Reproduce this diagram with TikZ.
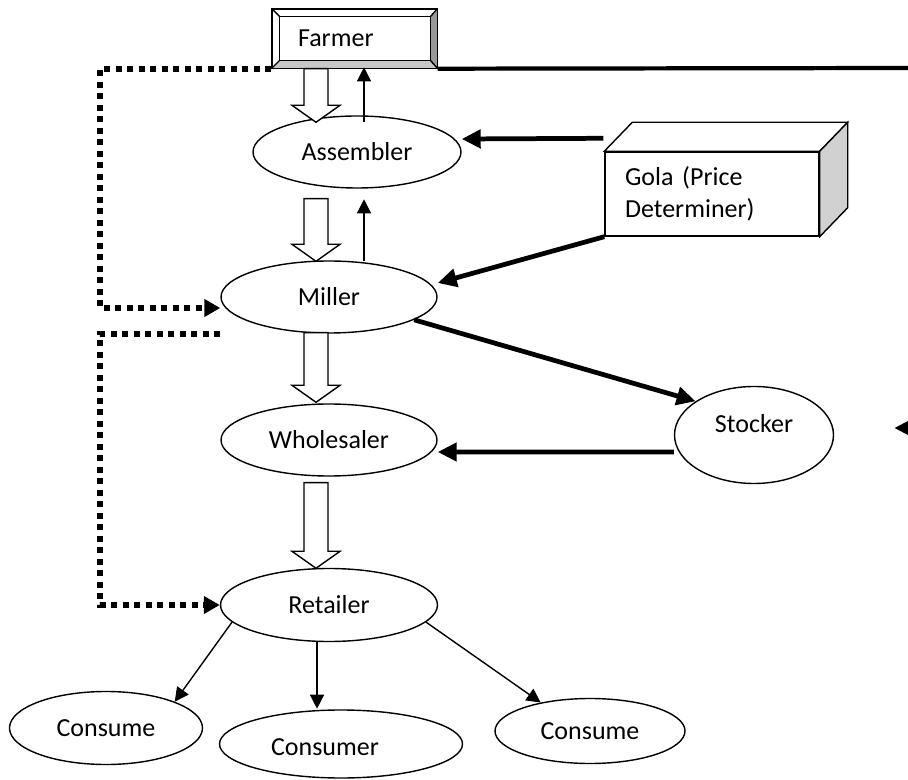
\documentclass[tikz,border=0pt]{standalone}
\usepackage{fontspec}
\setmainfont{Carlito}
\usetikzlibrary{shapes.geometric, arrows.meta, calc}

\definecolor{bevelright}{gray}{0.6}
\definecolor{bevelbottom}{gray}{0.78}
\definecolor{sideface}{gray}{0.82}

% hollow down arrow: x, top, tip
\newcommand{\hollowarrow}[3]{%
  \draw[line width=0.8pt, fill=white] let \p1=(#1,0), \p2=(#2), \p3=(#3) in
    (\x1-0.24cm,\y2) -- (\x1+0.24cm,\y2) -- (\x1+0.24cm,\y3+0.34cm) -- (\x1+0.48cm,\y3+0.34cm)
    -- (\x1,\y3) -- (\x1-0.48cm,\y3+0.34cm) -- (\x1-0.24cm,\y3+0.34cm) -- cycle;}

\begin{document}
\begin{tikzpicture}[font=\fontsize{14.8}{18.2}\selectfont,
  bubble/.style={ellipse, draw, line width=0.8pt, inner sep=0pt},
  heavy/.style={line width=2.7pt, -{Triangle[length=0.38cm,width=0.36cm]}},
  thinarrow/.style={line width=0.8pt, -{Triangle[length=0.28cm,width=0.28cm]}},
  dotline/.style={line width=0.12cm, dash pattern=on 0.12cm off 0.11cm, -{Triangle[length=0.32cm,width=0.34cm]}}]
\useasboundingbox (0,0) rectangle (18.16,-15.6);

% farmer
\node[draw, line width=0.8pt, minimum width=3.3cm, minimum height=1.18cm, inner xsep=0.52cm, text width=2.26cm, align=left] (farmer) at (7.09,-0.77) {Farmer};
\fill[bevelright] (farmer.north east) -- (farmer.south east) -- ($(farmer.south east)+(-0.14,0.16)$) -- ($(farmer.north east)+(-0.14,-0.16)$) -- cycle;
\fill[bevelbottom] (farmer.south west) -- (farmer.south east) -- ($(farmer.south east)+(-0.14,0.16)$) -- ($(farmer.south west)+(0.16,0.16)$) -- cycle;
\draw[line width=0.8pt] (farmer.south west) rectangle (farmer.north east);
\draw[line width=0.8pt] ($(farmer.south west)+(0.16,0.16)$) rectangle ($(farmer.north east)+(-0.14,-0.16)$);
\draw[line width=0.8pt] (farmer.north west) -- ++(0.16,-0.16);
\draw[line width=0.8pt] (farmer.south west) -- ++(0.16,0.16);
\draw[line width=0.8pt] (farmer.north east) -- ++(-0.14,-0.16);
\draw[line width=0.8pt] (farmer.south east) -- ++(-0.14,0.16);

% chain
\node[bubble, minimum width=4.16cm, minimum height=1.44cm] (assembler) at (7.14,-3.04) {Assembler};
\node[bubble, minimum width=4.32cm, minimum height=1.44cm] (miller) at (6.58,-5.94) {Miller};
\node[bubble, minimum width=4.32cm, minimum height=1.44cm] (wholesaler) at (6.58,-8.80) {Wholesaler};
\node[bubble, minimum width=4.34cm, minimum height=1.46cm] (retailer) at (6.58,-12.10) {Retailer};
\node[bubble, minimum width=3.18cm, minimum height=1.94cm, label={[yshift=0.22cm]center:Stocker}] (stocker) at (15.08,-8.70) {};

\node[bubble, minimum width=3.86cm, minimum height=1.46cm] (consumeL) at (2.12,-14.56) {Consume};
\node[bubble, minimum width=4.86cm, minimum height=1.36cm, label={[xshift=-0.32cm,yshift=-0.06cm]center:Consumer}] (consumer) at (6.82,-14.88) {};
\node[bubble, minimum width=3.80cm, minimum height=1.30cm] (consumeR) at (11.80,-14.62) {Consume};

% gola box
\node[draw, line width=0.8pt, minimum width=4.28cm, minimum height=1.68cm, inner xsep=0.4cm, text width=3.48cm, align=left] (gola) at (14.24,-3.88) {Gola (Price\\Determiner)};
\draw[line width=0.8pt, fill=white] (gola.north west) -- ++(0.56,0.58) -- ($(gola.north east)+(0.56,0.58)$) -- (gola.north east) -- cycle;
\draw[line width=0.8pt, fill=sideface] (gola.north east) -- ++(0.56,0.58) -- ($(gola.south east)+(0.56,0.58)$) -- (gola.south east) -- cycle;

\coordinate (edge) at (18.3,-1.36);
\coordinate (offpage) at (18.6,-8.56);

% product flow
\hollowarrow{6.32}{farmer.south}{[yshift=-0.14cm]assembler.north}
\hollowarrow{6.32}{[yshift=-0.2cm]assembler.south}{[yshift=-0.02cm]miller.north}
\hollowarrow{6.32}{[yshift=0.02cm]miller.south}{[yshift=0.02cm]wholesaler.north}
\hollowarrow{6.32}{[yshift=-0.12cm]wholesaler.south}{[yshift=-0.01cm]retailer.north}

\draw[thinarrow] ([shift={(0.14,-0.14)}]assembler.north) -- ++(0,1.10);
\draw[thinarrow] ([shift={(0.70,-0.02)}]miller.north) -- ++(0,1.24);

% price signals
\draw[line width=2.4pt] (farmer.south east) -- (edge);
\draw[heavy] ([shift={(-0.02,0.26)}]gola.north west) -- ([yshift=0.26cm]assembler.east);
\draw[heavy] (gola.south west) -- ([yshift=0.28cm]miller.east);
\draw[heavy] (miller.-15) -- (stocker.150);
\draw[heavy] ([yshift=-0.34cm]stocker.west) -- ([yshift=-0.24cm]wholesaler.east);
\draw[heavy] (offpage) -- ([shift={(1.2,0.14)}]stocker.east);

\draw[dotline] (farmer.south west) -- ++(-3.42,0) |- ([yshift=-0.22cm]miller.west);
\draw[dotline] (miller.west |- miller.south) -- ++(-2.40,0) |- (retailer.west);

% to consumers
\draw[thinarrow] (retailer.190) -- (consumeL.north east);
\draw[thinarrow] ([xshift=-0.24cm]retailer.south) -- ++(0,-1.33);
\draw[thinarrow] (retailer.-10) -- (consumeR.150);
\end{tikzpicture}
\end{document}
